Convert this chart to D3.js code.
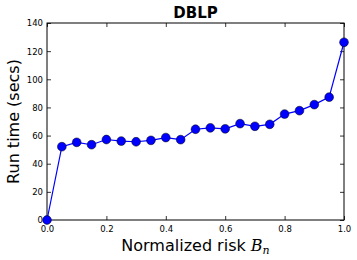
<!DOCTYPE html>
<html><head><meta charset="utf-8">
<script src="https://cdn.jsdelivr.net/npm/d3@7"></script>
<style>body{margin:0;background:#fff}svg{display:block}</style>
</head><body>
<script>
const riskValues = [0,0.05,0.1,0.15,0.2,0.25,0.3,0.35,0.4,0.45,0.5,0.55,0.6,0.65,0.7,0.75,0.8,0.85,0.9,0.95,1.0];
const runTimes = [0,52.1,55.2,53.5,57.2,56.1,55.6,56.6,58.6,57.1,64.5,65.5,64.8,68.5,66.6,68.0,75.3,77.7,82.0,87.3,126.3];
const xTicks = [0,0.2,0.4,0.6,0.8,1.0];
const yTicks = [0,20,40,60,80,100,120,140];

const W=357,H=260, L=47, R=344, T=23, B=220;
const svg=d3.select("body").append("svg").attr("width",W).attr("height",H);
const x=d3.scaleLinear().domain([0,1]).range([L,R]);
const y=d3.scaleLinear().domain([0,140]).range([B,T]);
const font="DejaVu Sans";

const gx=svg.append("g").attr("transform",`translate(0,${B})`)
  .call(d3.axisBottom(x).tickValues(xTicks).tickFormat(d3.format(".1f")).tickSize(-4).tickPadding(6));
const gxt=svg.append("g").attr("transform",`translate(0,${T})`)
  .call(d3.axisTop(x).tickValues(xTicks).tickFormat("").tickSize(-4));
const gy=svg.append("g").attr("transform",`translate(${L},0)`)
  .call(d3.axisLeft(y).tickValues(yTicks).tickFormat(d3.format("d")).tickSize(-4).tickPadding(4));
const gyr=svg.append("g").attr("transform",`translate(${R},0)`)
  .call(d3.axisRight(y).tickValues(yTicks).tickFormat("").tickSize(-4));
[gx,gxt,gy,gyr].forEach(g=>{g.select(".domain").remove();g.selectAll("line").attr("stroke","#000").attr("stroke-width",0.8);
  g.selectAll("text").attr("font-family",font).attr("font-size",8.5).attr("fill","#000");});
gy.selectAll("text").attr("dy","0.35em");

svg.append("rect").attr("x",L).attr("y",T).attr("width",R-L).attr("height",B-T)
  .attr("fill","none").attr("stroke","#000").attr("stroke-width",1);

const line=d3.line().x((d,i)=>x(riskValues[i])).y(d=>y(d));
svg.append("path").datum(runTimes).attr("d",line).attr("fill","none").attr("stroke","#0000ff").attr("stroke-width",1.2);
svg.selectAll("circle.pt").data(runTimes).enter().append("circle")
  .attr("cx",(d,i)=>x(riskValues[i])).attr("cy",d=>y(d)).attr("r",4.4)
  .attr("fill","#0000ff").attr("stroke","#000").attr("stroke-width",0.5);

svg.append("text").attr("x",(L+R)/2).attr("y",18).attr("text-anchor","middle")
  .attr("font-family",font).attr("font-weight","bold").attr("font-size",15).text("DBLP");

const xl=svg.append("text").attr("x",(L+R)/2).attr("y",251).attr("text-anchor","middle")
  .attr("font-family",font).attr("font-size",16);
xl.append("tspan").text("Normalized risk ");
xl.append("tspan").attr("font-style","italic").attr("font-family","DejaVu Serif").text("B");
xl.append("tspan").attr("font-style","italic").attr("font-family","DejaVu Serif").attr("font-size",11).attr("dy",3).text("n");

svg.append("text").attr("transform",`translate(19,${(T+B)/2}) rotate(-90)`).attr("text-anchor","middle")
  .attr("font-family",font).attr("font-size",16).text("Run time (secs)");
</script>
</body></html>
